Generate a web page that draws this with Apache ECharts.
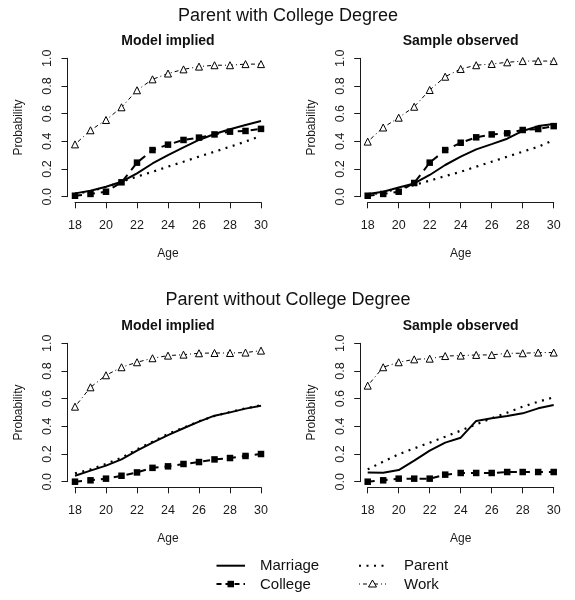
<!DOCTYPE html>
<html><head><meta charset="utf-8">
<script src="https://cdn.jsdelivr.net/npm/echarts@6/dist/echarts.min.js"></script>
<style>html,body{margin:0;padding:0;background:#fff}#c{width:575px;height:600px}</style>
</head><body><div id="c"></div>
<script>
// ---------- data ----------
const ages = [18, 19, 20, 21, 22, 23, 24, 25, 26, 27, 28, 29, 30];
const seriesNames = ['Marriage', 'College', 'Parent', 'Work'];
const mainTitles = ['Parent with College Degree', 'Parent without College Degree'];
const panelTitles = ['Model implied', 'Sample observed', 'Model implied', 'Sample observed'];
const xTicks = [18, 20, 22, 24, 26, 28, 30];
const yTicks = [0.0, 0.2, 0.4, 0.6, 0.8, 1.0];

// Parent with College Degree - Model implied
const withModelMarriage = [0.024, 0.043, 0.072, 0.108, 0.169, 0.240, 0.300, 0.357, 0.410, 0.453, 0.487, 0.518, 0.547];
const withModelCollege  = [0.007, 0.020, 0.036, 0.104, 0.246, 0.337, 0.376, 0.410, 0.427, 0.450, 0.470, 0.475, 0.490];
const withModelParent   = [0.020, 0.040, 0.070, 0.108, 0.145, 0.180, 0.217, 0.253, 0.290, 0.325, 0.361, 0.398, 0.440];
const withModelWork     = [0.378, 0.480, 0.554, 0.646, 0.769, 0.848, 0.890, 0.920, 0.940, 0.950, 0.950, 0.958, 0.958];
// Parent with College Degree - Sample observed
const withSampleMarriage = [0.020, 0.036, 0.067, 0.096, 0.157, 0.229, 0.289, 0.342, 0.380, 0.419, 0.475, 0.510, 0.525];
const withSampleCollege  = [0.007, 0.020, 0.036, 0.099, 0.246, 0.337, 0.390, 0.429, 0.450, 0.458, 0.482, 0.489, 0.510];
const withSampleParent   = [0.012, 0.031, 0.060, 0.084, 0.116, 0.149, 0.180, 0.217, 0.253, 0.289, 0.325, 0.361, 0.410];
const withSampleWork     = [0.398, 0.500, 0.571, 0.650, 0.771, 0.867, 0.923, 0.950, 0.959, 0.971, 0.980, 0.980, 0.980];
// Parent without College Degree - Model implied
const withoutModelMarriage = [0.043, 0.080, 0.116, 0.161, 0.224, 0.282, 0.337, 0.386, 0.434, 0.477, 0.501, 0.528, 0.549];
const withoutModelCollege  = [0.000, 0.010, 0.022, 0.043, 0.067, 0.100, 0.111, 0.128, 0.142, 0.161, 0.171, 0.186, 0.200];
const withoutModelParent   = [0.060, 0.089, 0.128, 0.173, 0.234, 0.289, 0.345, 0.390, 0.436, 0.475, 0.504, 0.530, 0.552];
const withoutModelWork     = [0.542, 0.682, 0.769, 0.827, 0.863, 0.892, 0.911, 0.918, 0.928, 0.930, 0.930, 0.933, 0.947];
// Parent without College Degree - Sample observed
const withoutSampleMarriage = [0.067, 0.065, 0.084, 0.152, 0.224, 0.282, 0.318, 0.439, 0.458, 0.475, 0.494, 0.530, 0.554];
const withoutSampleCollege  = [0.000, 0.010, 0.022, 0.022, 0.022, 0.051, 0.063, 0.063, 0.063, 0.070, 0.070, 0.070, 0.070];
const withoutSampleParent   = [0.089, 0.145, 0.198, 0.241, 0.282, 0.325, 0.369, 0.414, 0.458, 0.499, 0.542, 0.578, 0.610];
const withoutSampleWork     = [0.694, 0.827, 0.863, 0.884, 0.889, 0.908, 0.911, 0.916, 0.916, 0.928, 0.928, 0.933, 0.933];

const panelData = [
  [withModelMarriage, withModelCollege, withModelParent, withModelWork],
  [withSampleMarriage, withSampleCollege, withSampleParent, withSampleWork],
  [withoutModelMarriage, withoutModelCollege, withoutModelParent, withoutModelWork],
  [withoutSampleMarriage, withoutSampleCollege, withoutSampleParent, withoutSampleWork]
];

// ---------- layout / style ----------
const FONT = "'Liberation Sans', Arial, Helvetica, sans-serif";
const INK = '#1a1a1a';
const grids = [
  { left: 75,    top: 58.3,  width: 186, height: 138.4 },
  { left: 367.7, top: 58.3,  width: 186, height: 138.4 },
  { left: 75,    top: 343.3, width: 186, height: 138.4 },
  { left: 367.7, top: 343.3, width: 186, height: 138.4 }
];

const styles = {
  Marriage: { line: { color: '#000', width: 2, type: 'solid' }, symbol: 'none' },
  College:  { line: { color: '#000', width: 2, type: [7, 6] }, symbol: 'rect', size: 6.5,
              item: { color: '#000' } },
  Parent:   { line: { color: '#000', width: 2.2, type: [2, 5.5] }, symbol: 'none' },
  Work:     { line: { color: '#000', width: 1, type: [1, 3, 4, 3] }, symbol: 'triangle', size: 7,
              item: { color: '#fff', borderColor: '#000', borderWidth: 1 } }
};

const xAxes = grids.map((g, i) => ({
  type: 'value', gridIndex: i, min: xTicks[0], max: xTicks[xTicks.length - 1], interval: 2,
  offset: 5.6,
  axisLine: { show: true, onZero: false, lineStyle: { color: INK, width: 1 } },
  axisTick: { show: true, length: 6, lineStyle: { color: INK, width: 1 } },
  axisLabel: { color: INK, fontSize: 12.5, margin: 17, fontFamily: FONT },
  splitLine: { show: false },
  name: 'Age', nameLocation: 'middle', nameGap: 45.5,
  nameTextStyle: { color: INK, fontSize: 12, fontFamily: FONT }
}));
const yAxes = grids.map((g, i) => ({
  type: 'value', gridIndex: i, min: yTicks[0], max: yTicks[yTicks.length - 1], interval: 0.2,
  offset: 7.5,
  axisLine: { show: true, onZero: false, lineStyle: { color: INK, width: 1 } },
  axisTick: { show: true, length: 6, lineStyle: { color: INK, width: 1 } },
  axisLabel: { color: INK, fontSize: 12.5, margin: 13, rotate: 90, fontFamily: FONT,
               formatter: v => v.toFixed(1) },
  splitLine: { show: false },
  name: 'Probability', nameLocation: 'middle', nameGap: 43, nameRotate: 90,
  nameTextStyle: { color: INK, fontSize: 12, fontFamily: FONT }
}));

const series = [];
const drawOrder = [3, 2, 0, 1];
panelData.forEach((arrs, p) => {
  drawOrder.forEach(k => {
    const name = seriesNames[k];
    const st = styles[name];
    series.push({
      type: 'line', name: name, xAxisIndex: p, yAxisIndex: p,
      data: ages.map((a, j) => [a, arrs[k][j]]),
      symbol: st.symbol, symbolSize: st.size || 0, showSymbol: st.symbol !== 'none',
      lineStyle: st.line, itemStyle: st.item || { color: '#000' },
      clip: false, silent: true, animation: false, z: 2 + k
    });
  });
});

function txt(x, y, s, font, align) {
  return { type: 'text', x: x, y: y, silent: true,
    style: { text: s, font: font, fill: '#111', align: align || 'center', verticalAlign: 'middle',
             textAlign: align || 'center', textVerticalAlign: 'middle' } };
}
const graphics = [
  txt(288, 16.5, mainTitles[0], "18px " + FONT),
  txt(288, 300.5, mainTitles[1], "18px " + FONT),
  txt(168, 41, panelTitles[0], "bold 14px " + FONT),
  txt(460.7, 41, panelTitles[1], "bold 14px " + FONT),
  txt(168, 326.5, panelTitles[2], "bold 14px " + FONT),
  txt(460.7, 326.5, panelTitles[3], "bold 14px " + FONT),
  // legend
  { type: 'line', shape: { x1: 216.5, y1: 565.7, x2: 245, y2: 565.7 }, style: { stroke: '#000', lineWidth: 2 } },
  { type: 'line', shape: { x1: 216.5, y1: 584, x2: 245, y2: 584 }, style: { stroke: '#000', lineWidth: 2, lineDash: [5, 4] } },
  { type: 'rect', shape: { x: 227.5, y: 580.8, width: 6.5, height: 6.5 }, style: { fill: '#000' } },
  { type: 'line', shape: { x1: 359, y1: 565.7, x2: 386, y2: 565.7 }, style: { stroke: '#000', lineWidth: 2, lineDash: [2, 5.5] } },
  { type: 'line', shape: { x1: 359, y1: 584, x2: 386, y2: 584 }, style: { stroke: '#000', lineWidth: 1, lineDash: [1, 3, 4, 3] } },
  { type: 'polygon', shape: { points: [[372.5, 580], [368.5, 587], [376.5, 587]] }, style: { fill: '#fff', stroke: '#000', lineWidth: 1 }, z: 10 },
  txt(260, 565.7, seriesNames[0], "15px " + FONT, 'left'),
  txt(260, 584.5, seriesNames[1], "15px " + FONT, 'left'),
  txt(404, 565.7, seriesNames[2], "15px " + FONT, 'left'),
  txt(404, 584.5, seriesNames[3], "15px " + FONT, 'left')
];

const chart = echarts.init(document.getElementById('c'), null, { renderer: 'canvas' });
chart.setOption({
  backgroundColor: '#fff',
  animation: false,
  grid: grids,
  xAxis: xAxes,
  yAxis: yAxes,
  series: series,
  graphic: graphics
});
</script>
</body></html>
